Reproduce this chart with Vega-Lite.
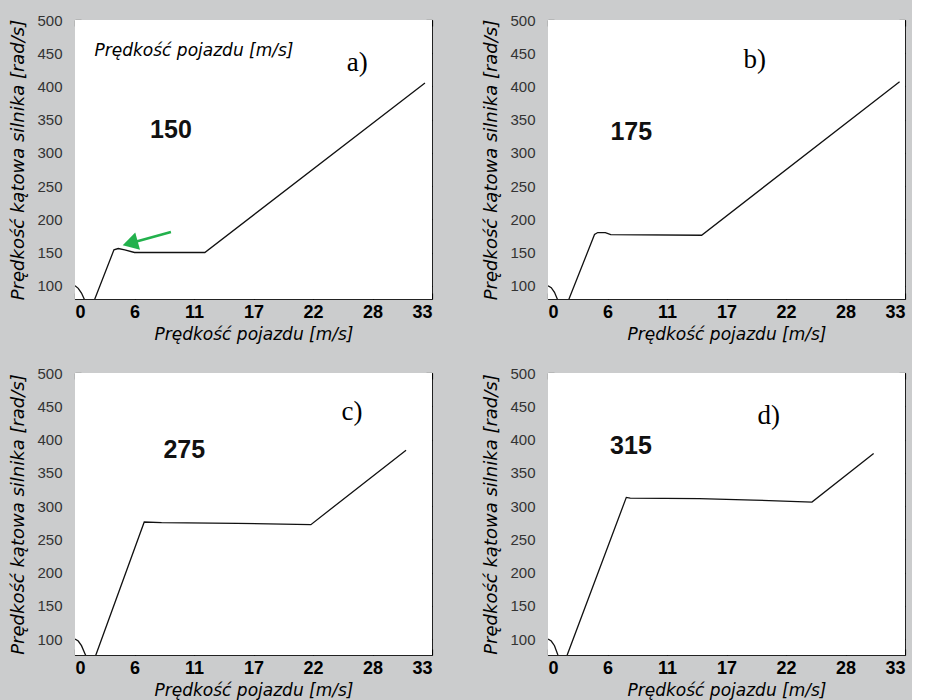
{
  "$schema": "https://vega.github.io/schema/vega-lite/v6.json",
  "background": "#cbcccd",
  "padding": {"left": 9, "top": 12, "right": 5, "bottom": 2},
  "config": {
    "view": {"stroke": "#222", "strokeWidth": 1},
    "axis": {"grid": false, "domain": false, "ticks": true, "tickSize": 6, "offset": -6, "tickColor": "black", "tickWidth": 1.2, "tickOpacity": 1, "zindex": 2},
    "axisX": {"labelFont": "Liberation Sans", "labelFontWeight": "bold", "labelFontSize": 18, "labelColor": "black", "labelPadding": 4, "titleFont": "DejaVu Sans", "titleFontStyle": "italic", "titleFontWeight": "normal", "titleFontSize": 17, "titleColor": "black", "titlePadding": 5},
    "axisY": {"labelFont": "Liberation Sans", "labelFontSize": 15, "labelColor": "#333", "labelPadding": 13, "titleFont": "DejaVu Sans", "titleFontStyle": "italic", "titleFontWeight": "normal", "titleFontSize": 18, "titleColor": "black", "titlePadding": 9}
  },
  "datasets": {
    "a": [{"v": 0, "w": 100}, {"v": 0.3, "w": 96}, {"v": 0.6, "w": 89}, {"v": 0.85, "w": 80}, {"v": 1.1, "w": 68}, {"v": 1.6, "w": 70}, {"v": 1.83, "w": 80}, {"v": 3.6, "w": 154}, {"v": 4.0, "w": 156}, {"v": 4.6, "w": 154}, {"v": 5.5, "w": 150}, {"v": 9, "w": 150}, {"v": 12.0, "w": 150}, {"v": 32.35, "w": 405}],
    "b": [{"v": 0, "w": 100}, {"v": 0.3, "w": 97}, {"v": 0.6, "w": 90}, {"v": 0.86, "w": 80}, {"v": 1.1, "w": 70}, {"v": 1.7, "w": 70}, {"v": 1.94, "w": 80}, {"v": 4.3, "w": 177}, {"v": 4.6, "w": 180}, {"v": 5.3, "w": 180}, {"v": 5.8, "w": 177}, {"v": 14.2, "w": 176}, {"v": 32.5, "w": 407}],
    "c": [{"v": 0, "w": 100}, {"v": 0.3, "w": 97}, {"v": 0.6, "w": 90}, {"v": 0.92, "w": 78}, {"v": 1.2, "w": 68}, {"v": 1.75, "w": 68}, {"v": 1.97, "w": 78}, {"v": 6.4, "w": 276}, {"v": 8, "w": 275}, {"v": 15, "w": 274}, {"v": 21.8, "w": 272}, {"v": 30.6, "w": 384}],
    "d": [{"v": 0, "w": 100}, {"v": 0.3, "w": 97}, {"v": 0.6, "w": 90}, {"v": 0.89, "w": 77}, {"v": 1.2, "w": 66}, {"v": 1.6, "w": 68}, {"v": 1.8, "w": 77}, {"v": 7.24, "w": 313}, {"v": 7.6, "w": 312}, {"v": 14, "w": 311}, {"v": 19, "w": 309}, {"v": 24.4, "w": 306}, {"v": 30.1, "w": 379}],
    "labels": [
      {"panel": "a", "kind": "letter", "x": 26.1, "y": 435, "t": "a)"},
      {"panel": "a", "kind": "num", "x": 8.87, "y": 335, "t": "150"},
      {"panel": "a", "kind": "inner", "x": 11.0, "y": 454, "t": "Prędkość pojazdu [m/s]"},
      {"panel": "b", "kind": "letter", "x": 19.1, "y": 440, "t": "b)"},
      {"panel": "b", "kind": "num", "x": 7.7, "y": 332, "t": "175"},
      {"panel": "c", "kind": "letter", "x": 25.6, "y": 441, "t": "c)"},
      {"panel": "c", "kind": "num", "x": 10.1, "y": 384, "t": "275"},
      {"panel": "d", "kind": "letter", "x": 20.4, "y": 436, "t": "d)"},
      {"panel": "d", "kind": "num", "x": 7.67, "y": 390, "t": "315"}
    ],
    "arrow": [{"x": 8.87, "y": 180.8, "x2": 5.1, "y2": 164}],
    "one": [{}]
  },
  "columns": 2,
  "spacing": {"row": 22, "column": 48},
  "concat": [
    {
      "width": 357, "height": 279,
      "resolve": {"axis": {"x": "independent", "y": "independent"}},
      "layer": [
        {"data": {"name": "one"}, "mark": {"type": "rect", "color": "white"},
         "encoding": {"x": {"datum": 0, "type": "quantitative", "axis": null}, "x2": {"datum": 33}, "y": {"datum": 80, "type": "quantitative", "axis": null}, "y2": {"datum": 500}}},
        {"data": {"name": "a"}, "mark": {"type": "line", "clip": true, "color": "#111", "strokeWidth": 1.3},
         "encoding": {
           "x": {"field": "v", "type": "quantitative", "scale": {"domain": [0, 33], "nice": false, "zero": false}, "axis": {"orient": "bottom", "values": [0, 5.5, 11, 16.5, 22, 27.5, 33], "format": ".0f", "title": "Prędkość pojazdu [m/s]"}},
           "y": {"field": "w", "type": "quantitative", "scale": {"domain": [80, 500], "nice": false, "zero": false}, "axis": {"orient": "left", "values": [100, 150, 200, 250, 300, 350, 400, 450, 500], "title": "Prędkość kątowa silnika [rad/s]"}}}},
        {"data": {"name": "a"}, "mark": {"type": "line", "opacity": 0},
         "encoding": {
           "x": {"field": "v", "type": "quantitative", "axis": {"orient": "top", "values": [0, 5.5, 11, 16.5, 22, 27.5, 33], "labels": false, "title": null}},
           "y": {"field": "w", "type": "quantitative", "axis": {"orient": "right", "values": [100, 150, 200, 250, 300, 350, 400, 450, 500], "labels": false, "title": null}}}},
        {"data": {"name": "labels"}, "transform": [{"filter": "datum.panel == 'a' && datum.kind == 'letter'"}], "mark": {"type": "text", "font": "Liberation Serif", "fontSize": 27, "color": "black"},
         "encoding": {"x": {"field": "x", "type": "quantitative", "axis": null}, "y": {"field": "y", "type": "quantitative", "axis": null}, "text": {"field": "t"}}},
        {"data": {"name": "labels"}, "transform": [{"filter": "datum.panel == 'a' && datum.kind == 'num'"}], "mark": {"type": "text", "font": "Liberation Sans", "fontWeight": "bold", "fontSize": 25, "color": "#111"},
         "encoding": {"x": {"field": "x", "type": "quantitative", "axis": null}, "y": {"field": "y", "type": "quantitative", "axis": null}, "text": {"field": "t"}}},
        {"data": {"name": "labels"}, "transform": [{"filter": "datum.panel == 'a' && datum.kind == 'inner'"}], "mark": {"type": "text", "font": "DejaVu Sans", "fontStyle": "italic", "fontSize": 17, "color": "black"},
         "encoding": {"x": {"field": "x", "type": "quantitative", "axis": null}, "y": {"field": "y", "type": "quantitative", "axis": null}, "text": {"field": "t"}}},
        {"data": {"name": "arrow"}, "mark": {"type": "rule", "color": "#22b14c", "strokeWidth": 2.5},
         "encoding": {"x": {"field": "x", "type": "quantitative", "axis": null}, "y": {"field": "y", "type": "quantitative", "axis": null}, "x2": {"field": "x2"}, "y2": {"field": "y2"}}},
        {"data": {"name": "arrow"}, "mark": {"type": "point", "shape": "triangle-left", "filled": true, "color": "#22b14c", "opacity": 1, "size": 320, "angle": 344.5},
         "encoding": {"x": {"field": "x2", "type": "quantitative", "axis": null}, "y": {"field": "y2", "type": "quantitative", "axis": null}}}
      ]
    },
    {
      "width": 357, "height": 279,
      "resolve": {"axis": {"x": "independent", "y": "independent"}},
      "layer": [
        {"data": {"name": "one"}, "mark": {"type": "rect", "color": "white"},
         "encoding": {"x": {"datum": 0, "type": "quantitative", "axis": null}, "x2": {"datum": 33}, "y": {"datum": 80, "type": "quantitative", "axis": null}, "y2": {"datum": 500}}},
        {"data": {"name": "b"}, "mark": {"type": "line", "clip": true, "color": "#111", "strokeWidth": 1.3},
         "encoding": {
           "x": {"field": "v", "type": "quantitative", "scale": {"domain": [0, 33], "nice": false, "zero": false}, "axis": {"orient": "bottom", "values": [0, 5.5, 11, 16.5, 22, 27.5, 33], "format": ".0f", "title": "Prędkość pojazdu [m/s]"}},
           "y": {"field": "w", "type": "quantitative", "scale": {"domain": [80, 500], "nice": false, "zero": false}, "axis": {"orient": "left", "values": [100, 150, 200, 250, 300, 350, 400, 450, 500], "title": "Prędkość kątowa silnika [rad/s]"}}}},
        {"data": {"name": "b"}, "mark": {"type": "line", "opacity": 0},
         "encoding": {
           "x": {"field": "v", "type": "quantitative", "axis": {"orient": "top", "values": [0, 5.5, 11, 16.5, 22, 27.5, 33], "labels": false, "title": null}},
           "y": {"field": "w", "type": "quantitative", "axis": {"orient": "right", "values": [100, 150, 200, 250, 300, 350, 400, 450, 500], "labels": false, "title": null}}}},
        {"data": {"name": "labels"}, "transform": [{"filter": "datum.panel == 'b' && datum.kind == 'letter'"}], "mark": {"type": "text", "font": "Liberation Serif", "fontSize": 27, "color": "black"},
         "encoding": {"x": {"field": "x", "type": "quantitative", "axis": null}, "y": {"field": "y", "type": "quantitative", "axis": null}, "text": {"field": "t"}}},
        {"data": {"name": "labels"}, "transform": [{"filter": "datum.panel == 'b' && datum.kind == 'num'"}], "mark": {"type": "text", "font": "Liberation Sans", "fontWeight": "bold", "fontSize": 25, "color": "#111"},
         "encoding": {"x": {"field": "x", "type": "quantitative", "axis": null}, "y": {"field": "y", "type": "quantitative", "axis": null}, "text": {"field": "t"}}}
      ]
    },
    {
      "width": 357, "height": 282,
      "resolve": {"axis": {"x": "independent", "y": "independent"}},
      "layer": [
        {"data": {"name": "one"}, "mark": {"type": "rect", "color": "white"},
         "encoding": {"x": {"datum": 0, "type": "quantitative", "axis": null}, "x2": {"datum": 33}, "y": {"datum": 76, "type": "quantitative", "axis": null}, "y2": {"datum": 500}}},
        {"data": {"name": "c"}, "mark": {"type": "line", "clip": true, "color": "#111", "strokeWidth": 1.3},
         "encoding": {
           "x": {"field": "v", "type": "quantitative", "scale": {"domain": [0, 33], "nice": false, "zero": false}, "axis": {"orient": "bottom", "values": [0, 5.5, 11, 16.5, 22, 27.5, 33], "format": ".0f", "title": "Prędkość pojazdu [m/s]"}},
           "y": {"field": "w", "type": "quantitative", "scale": {"domain": [76, 500], "nice": false, "zero": false}, "axis": {"orient": "left", "values": [100, 150, 200, 250, 300, 350, 400, 450, 500], "title": "Prędkość kątowa silnika [rad/s]"}}}},
        {"data": {"name": "c"}, "mark": {"type": "line", "opacity": 0},
         "encoding": {
           "x": {"field": "v", "type": "quantitative", "axis": {"orient": "top", "values": [0, 5.5, 11, 16.5, 22, 27.5, 33], "labels": false, "title": null}},
           "y": {"field": "w", "type": "quantitative", "axis": {"orient": "right", "values": [100, 150, 200, 250, 300, 350, 400, 450, 500], "labels": false, "title": null}}}},
        {"data": {"name": "labels"}, "transform": [{"filter": "datum.panel == 'c' && datum.kind == 'letter'"}], "mark": {"type": "text", "font": "Liberation Serif", "fontSize": 27, "color": "black"},
         "encoding": {"x": {"field": "x", "type": "quantitative", "axis": null}, "y": {"field": "y", "type": "quantitative", "axis": null}, "text": {"field": "t"}}},
        {"data": {"name": "labels"}, "transform": [{"filter": "datum.panel == 'c' && datum.kind == 'num'"}], "mark": {"type": "text", "font": "Liberation Sans", "fontWeight": "bold", "fontSize": 25, "color": "#111"},
         "encoding": {"x": {"field": "x", "type": "quantitative", "axis": null}, "y": {"field": "y", "type": "quantitative", "axis": null}, "text": {"field": "t"}}}
      ]
    },
    {
      "width": 357, "height": 282,
      "resolve": {"axis": {"x": "independent", "y": "independent"}},
      "layer": [
        {"data": {"name": "one"}, "mark": {"type": "rect", "color": "white"},
         "encoding": {"x": {"datum": 0, "type": "quantitative", "axis": null}, "x2": {"datum": 33}, "y": {"datum": 76, "type": "quantitative", "axis": null}, "y2": {"datum": 500}}},
        {"data": {"name": "d"}, "mark": {"type": "line", "clip": true, "color": "#111", "strokeWidth": 1.3},
         "encoding": {
           "x": {"field": "v", "type": "quantitative", "scale": {"domain": [0, 33], "nice": false, "zero": false}, "axis": {"orient": "bottom", "values": [0, 5.5, 11, 16.5, 22, 27.5, 33], "format": ".0f", "title": "Prędkość pojazdu [m/s]"}},
           "y": {"field": "w", "type": "quantitative", "scale": {"domain": [76, 500], "nice": false, "zero": false}, "axis": {"orient": "left", "values": [100, 150, 200, 250, 300, 350, 400, 450, 500], "title": "Prędkość kątowa silnika [rad/s]"}}}},
        {"data": {"name": "d"}, "mark": {"type": "line", "opacity": 0},
         "encoding": {
           "x": {"field": "v", "type": "quantitative", "axis": {"orient": "top", "values": [0, 5.5, 11, 16.5, 22, 27.5, 33], "labels": false, "title": null}},
           "y": {"field": "w", "type": "quantitative", "axis": {"orient": "right", "values": [100, 150, 200, 250, 300, 350, 400, 450, 500], "labels": false, "title": null}}}},
        {"data": {"name": "labels"}, "transform": [{"filter": "datum.panel == 'd' && datum.kind == 'letter'"}], "mark": {"type": "text", "font": "Liberation Serif", "fontSize": 27, "color": "black"},
         "encoding": {"x": {"field": "x", "type": "quantitative", "axis": null}, "y": {"field": "y", "type": "quantitative", "axis": null}, "text": {"field": "t"}}},
        {"data": {"name": "labels"}, "transform": [{"filter": "datum.panel == 'd' && datum.kind == 'num'"}], "mark": {"type": "text", "font": "Liberation Sans", "fontWeight": "bold", "fontSize": 25, "color": "#111"},
         "encoding": {"x": {"field": "x", "type": "quantitative", "axis": null}, "y": {"field": "y", "type": "quantitative", "axis": null}, "text": {"field": "t"}}}
      ]
    }
  ]
}
